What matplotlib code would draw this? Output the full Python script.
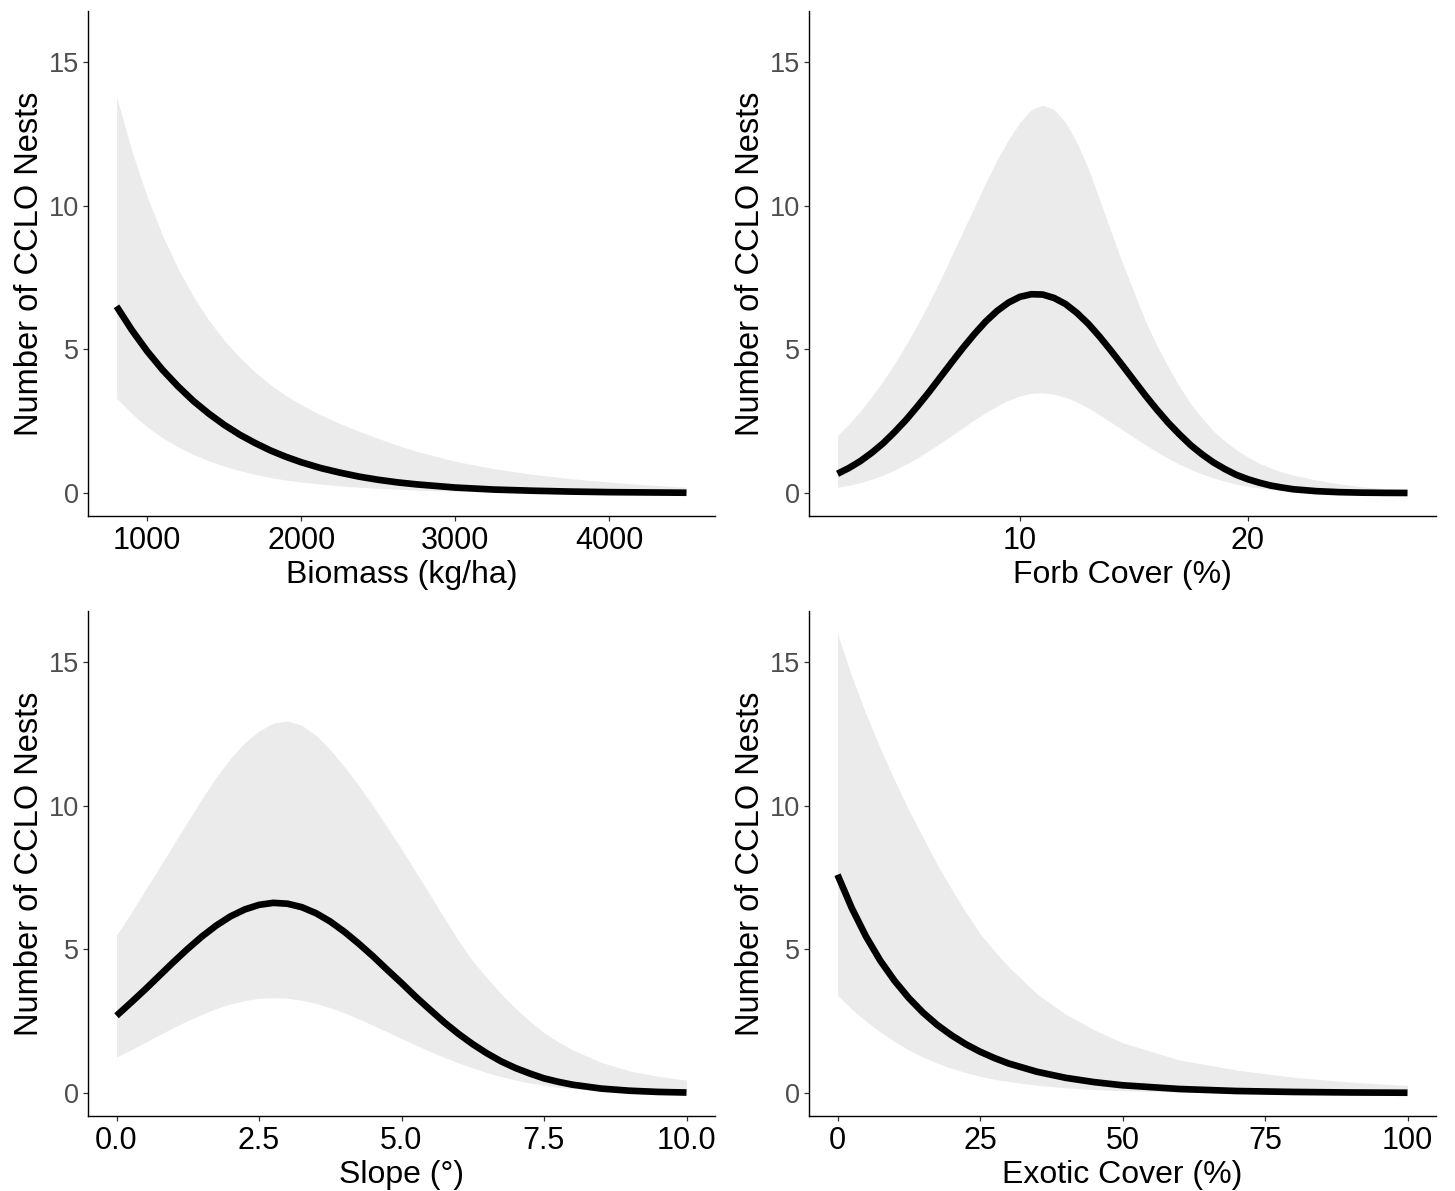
import matplotlib
matplotlib.use("Agg")
import matplotlib.pyplot as plt

plt.rcParams['font.family'] = ['Liberation Sans', 'DejaVu Sans']

# ---------------- data ----------------
# Panel 1: Biomass
biomass_x = [800, 900, 1000, 1100, 1200, 1300, 1400, 1500, 1600, 1700, 1800, 1900,
             2000, 2125, 2250, 2375, 2500, 2625, 2750, 3000, 3250, 3500, 3750,
             4000, 4250, 4500]
biomass_fit = [6.50, 5.67, 4.93, 4.28, 3.71, 3.20, 2.76, 2.37, 2.03, 1.74, 1.48, 1.26,
               1.07, 0.87, 0.71, 0.57, 0.46, 0.37, 0.30, 0.19, 0.12, 0.08, 0.05,
               0.03, 0.02, 0.01]
biomass_upper = [13.8, 11.9, 10.3, 8.95, 7.8, 6.83, 6.01, 5.31, 4.72, 4.21, 3.77, 3.39,
                 3.07, 2.72, 2.42, 2.15, 1.9, 1.66, 1.45, 1.1, 0.85, 0.65, 0.5,
                 0.38, 0.28, 0.2]
biomass_lower = [3.3, 2.76, 2.3, 1.92, 1.6, 1.34, 1.12, 0.93, 0.78, 0.65, 0.54, 0.45,
                 0.38, 0.31, 0.25, 0.2, 0.16, 0.13, 0.1, 0.06, 0.04, 0.02, 0.015,
                 0.01, 0.005, 0.0]

# Panel 2: Forb cover
forb_x = [2.0, 2.5, 3.0, 3.5, 4.0, 4.5, 5.0, 5.5, 6.0, 6.5, 7.0, 7.5, 8.0, 8.5,
          9.0, 9.5, 10.0, 10.5, 11.0, 11.5, 12.0, 12.5, 13.0, 13.5, 14.0, 14.5,
          15.0, 15.5, 16.0, 16.5, 17.0, 17.5, 18.0, 18.5, 19.0, 19.5, 20.0, 20.5,
          21.0, 21.5, 22.0, 23.0, 24.0, 25.0, 26.0, 27.0]
forb_fit = [0.67, 0.87, 1.11, 1.40, 1.73, 2.12, 2.54, 3.01, 3.50, 4.02, 4.54, 5.05,
            5.53, 5.97, 6.34, 6.63, 6.83, 6.92, 6.91, 6.79, 6.58, 6.27, 5.89, 5.44,
            4.95, 4.44, 3.92, 3.40, 2.91, 2.45, 2.04, 1.66, 1.34, 1.06, 0.83, 0.63,
            0.48, 0.36, 0.26, 0.19, 0.13, 0.065, 0.03, 0.013, 0.005, 0.002]
forb_upper = [2.0, 2.4, 2.85, 3.35, 3.9, 4.5, 5.15, 5.85, 6.6, 7.4, 8.25, 9.1,
              9.95, 10.8, 11.6, 12.3, 12.9, 13.35, 13.5, 13.35, 12.9, 12.2, 11.3,
              10.2, 9.1, 8.0, 7.0, 6.0, 5.15, 4.4, 3.7, 3.1, 2.6, 2.15, 1.8, 1.5,
              1.25, 1.03, 0.87, 0.73, 0.62, 0.45, 0.32, 0.22, 0.15, 0.1]
forb_lower = [0.2, 0.27, 0.36, 0.48, 0.62, 0.8, 1.0, 1.22, 1.47, 1.73, 2.0, 2.27,
              2.55, 2.8, 3.03, 3.23, 3.38, 3.47, 3.49, 3.44, 3.33, 3.17, 2.96, 2.72,
              2.46, 2.2, 1.94, 1.68, 1.44, 1.21, 1.0, 0.82, 0.66, 0.52, 0.41, 0.31,
              0.23, 0.17, 0.12, 0.09, 0.06, 0.03, 0.013, 0.006, 0.002, 0.001]

# Panel 3: Slope
slope_x = [0.0, 0.25, 0.5, 0.75, 1.0, 1.25, 1.5, 1.75, 2.0, 2.25, 2.5, 2.75, 3.0,
           3.25, 3.5, 3.75, 4.0, 4.25, 4.5, 4.75, 5.0, 5.25, 5.5, 5.75, 6.0, 6.25,
           6.5, 6.75, 7.0, 7.25, 7.5, 7.75, 8.0, 8.5, 9.0, 9.5, 10.0]
slope_fit = [2.69, 3.14, 3.60, 4.08, 4.56, 5.02, 5.45, 5.83, 6.15, 6.39, 6.55, 6.62,
             6.59, 6.47, 6.26, 5.97, 5.61, 5.20, 4.76, 4.29, 3.83, 3.35, 2.90, 2.46,
             2.06, 1.70, 1.38, 1.10, 0.87, 0.68, 0.51, 0.39, 0.29, 0.155, 0.08,
             0.038, 0.017]
slope_upper = [5.5, 6.25, 7.05, 7.85, 8.65, 9.45, 10.25, 11.0, 11.65, 12.2, 12.6,
               12.88, 12.95, 12.8, 12.45, 11.95, 11.35, 10.7, 10.0, 9.25, 8.5, 7.7,
               6.9, 6.1, 5.3, 4.6, 4.0, 3.45, 2.95, 2.5, 2.1, 1.78, 1.5, 1.07, 0.77,
               0.58, 0.45]
slope_lower = [1.25, 1.5, 1.76, 2.02, 2.28, 2.52, 2.74, 2.94, 3.1, 3.22, 3.3, 3.32,
               3.3, 3.23, 3.12, 2.97, 2.79, 2.58, 2.36, 2.13, 1.9, 1.67, 1.45, 1.24,
               1.05, 0.87, 0.71, 0.57, 0.45, 0.35, 0.27, 0.2, 0.15, 0.08, 0.04, 0.02,
               0.01]

# Panel 4: Exotic cover
exotic_x = [0, 2.5, 5, 7.5, 10, 12.5, 15, 17.5, 20, 22.5, 25, 27.5, 30, 35, 40, 45,
            50, 60, 70, 80, 90, 100]
exotic_fit = [7.6, 6.44, 5.45, 4.61, 3.91, 3.31, 2.80, 2.37, 2.01, 1.70, 1.44, 1.22,
              1.03, 0.74, 0.53, 0.38, 0.27, 0.14, 0.07, 0.037, 0.019, 0.01]
exotic_upper = [16.0, 14.5, 13.2, 12.0, 10.9, 9.85, 8.9, 7.95, 7.1, 6.3, 5.55, 4.95,
                4.4, 3.45, 2.75, 2.2, 1.75, 1.15, 0.8, 0.55, 0.38, 0.26]
exotic_lower = [3.4, 2.92, 2.5, 2.13, 1.8, 1.5, 1.25, 1.04, 0.86, 0.71, 0.58, 0.48,
                0.4, 0.27, 0.18, 0.12, 0.08, 0.035, 0.015, 0.007, 0.003, 0.001]

y_ticks = [0, 5, 10, 15]
y_label = "Number of CCLO Nests"

panels = [
    dict(x=biomass_x, fit=biomass_fit, lo=biomass_lower, hi=biomass_upper,
         xlabel="Biomass (kg/ha)", xticks=[1000, 2000, 3000, 4000],
         xticklabels=["1000", "2000", "3000", "4000"], xlim=(615, 4685)),
    dict(x=forb_x, fit=forb_fit, lo=forb_lower, hi=forb_upper,
         xlabel="Forb Cover (%)", xticks=[10, 20],
         xticklabels=["10", "20"], xlim=(0.75, 28.25)),
    dict(x=slope_x, fit=slope_fit, lo=slope_lower, hi=slope_upper,
         xlabel="Slope (°)", xticks=[0, 2.5, 5, 7.5, 10],
         xticklabels=["0.0", "2.5", "5.0", "7.5", "10.0"], xlim=(-0.5, 10.5)),
    dict(x=exotic_x, fit=exotic_fit, lo=exotic_lower, hi=exotic_upper,
         xlabel="Exotic Cover (%)", xticks=[0, 25, 50, 75, 100],
         xticklabels=["0", "25", "50", "75", "100"], xlim=(-5, 105)),
]

W, H = 1455, 1191
fig = plt.figure(figsize=(W / 100, H / 100), dpi=100)

lefts = [88, 809, 88, 809]
tops = [11, 11, 611, 611]
aw, ah = 627, 505

for i, p in enumerate(panels):
    ax = fig.add_axes([lefts[i] / W, 1 - (tops[i] + ah) / H, aw / W, ah / H])
    ax.fill_between(p["x"], p["lo"], p["hi"], color="#EBEBEB", linewidth=0)
    ax.plot(p["x"], p["fit"], color="black", lw=4.8, solid_capstyle="butt",
            solid_joinstyle="round")
    ax.set_xlim(*p["xlim"])
    ax.set_ylim(-0.8, 16.78)
    ax.set_yticks(y_ticks)
    ax.set_yticklabels([str(v) for v in y_ticks])
    ax.set_xticks(p["xticks"])
    ax.set_xticklabels(p["xticklabels"])
    for s in ["top", "right"]:
        ax.spines[s].set_visible(False)
    for s in ["left", "bottom"]:
        ax.spines[s].set_linewidth(1.0)
        ax.spines[s].set_color("black")
    ax.tick_params(axis="y", labelsize=19.5, labelcolor="#4D4D4D", length=3.5,
                   width=0.9, color="#333333", pad=3)
    ax.tick_params(axis="x", labelsize=22, labelcolor="black", length=3.5,
                   width=0.9, color="#333333", pad=3.5)
    ax.set_xlabel(p["xlabel"], fontsize=23, labelpad=3)
    ax.set_ylabel(y_label, fontsize=23.5, labelpad=3)

fig.savefig("out.png", dpi=100)
